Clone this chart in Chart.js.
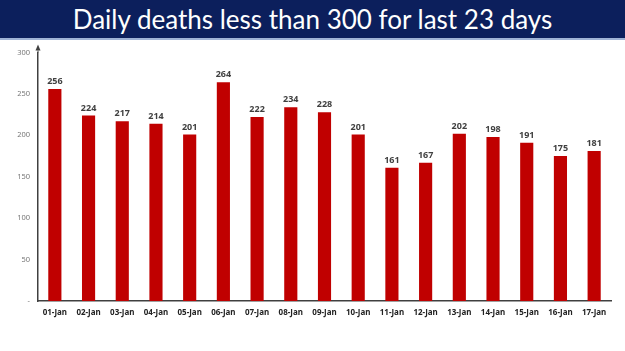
<!DOCTYPE html>
<html>
<head>
<meta charset="utf-8">
<script src="https://cdn.jsdelivr.net/npm/chart.js@4/dist/chart.umd.min.js"></script>
<style>
  html, body { margin: 0; padding: 0; background: #fff; }
  #page { position: relative; width: 625px; height: 351px; overflow: hidden; }
  #title {
    position: absolute; left: 0; top: 0; width: 625px; height: 38px;
    background: #0c1f5c; border-bottom: 2px solid #9fb3d6;
    color: #fff; font-family: Lato, 'Open Sans', sans-serif; font-size: 26px;
    line-height: 38px; text-align: center;
  }
  #wrap { position: absolute; left: 0; top: 40px; width: 625px; height: 311px; }
</style>
</head>
<body>
<div id="page">
  <div id="title">Daily deaths less than 300 for last 23 days</div>
  <div id="wrap"><canvas id="myChart"></canvas></div>
</div>
<script>
const days = ['01-Jan', '02-Jan', '03-Jan', '04-Jan', '05-Jan', '06-Jan', '07-Jan', '08-Jan', '09-Jan',
  '10-Jan', '11-Jan', '12-Jan', '13-Jan', '14-Jan', '15-Jan', '16-Jan', '17-Jan'];
const deaths = [256, 224, 217, 214, 201, 264, 222, 234, 228, 201, 161, 167, 202, 198, 191, 175, 181];
const yTicks = [0, 50, 100, 150, 200, 250, 300];

// value labels above each bar
const barLabels = {
  id: 'barLabels',
  afterDatasetsDraw(chart) {
    const ctx = chart.ctx;
    const meta = chart.getDatasetMeta(0);
    ctx.save();
    ctx.fillStyle = '#404040';
    ctx.font = 'bold 9px "Noto Sans"';
    ctx.textAlign = 'center';
    ctx.textBaseline = 'bottom';
    meta.data.forEach((bar, i) => {
      ctx.fillText(deaths[i], bar.x, bar.y - 3);
    });
    ctx.restore();
  }
};

// arrow head on top of the y axis
const axisArrow = {
  id: 'axisArrow',
  afterDraw(chart) {
    const ctx = chart.ctx;
    const x = chart.scales.y.right;
    const top = chart.chartArea.top;
    ctx.save();
    ctx.strokeStyle = '#404040';
    ctx.fillStyle = '#404040';
    ctx.lineWidth = 1;
    ctx.beginPath();
    ctx.moveTo(x, top);
    ctx.lineTo(x, top - 2);
    ctx.stroke();
    ctx.beginPath();
    ctx.moveTo(x, top - 8);
    ctx.lineTo(x - 2.5, top - 2);
    ctx.lineTo(x + 2.5, top - 2);
    ctx.closePath();
    ctx.fill();
    ctx.restore();
  }
};

new Chart(document.getElementById('myChart').getContext('2d'), {
  type: 'bar',
  data: {
    labels: days,
    datasets: [{
      data: deaths,
      backgroundColor: '#c00000',
      borderColor: '#b00000',
      borderWidth: 0,
      barPercentage: 0.39,
      categoryPercentage: 1
    }]
  },
  options: {
    responsive: true,
    maintainAspectRatio: false,
    animation: false,
    layout: { padding: { top: 9, right: 14, left: 0, bottom: 0 } },
    plugins: { legend: { display: false }, tooltip: { enabled: false } },
    scales: {
      x: {
        grid: { display: false, drawTicks: false },
        border: { display: true, color: '#404040', width: 1.5 },
        ticks: {
          color: '#222',
          font: { family: 'Noto Sans', size: 8, weight: 'bold' },
          padding: 7,
          maxRotation: 0,
          autoSkip: false
        },
        afterFit(s) { s.height = 50; }
      },
      y: {
        min: 0,
        max: 300,
        afterBuildTicks(s) { s.ticks = yTicks.map(v => ({ value: v })); },
        grid: { display: false, drawTicks: false },
        border: { display: true, color: '#404040', width: 1.5 },
        ticks: {
          color: '#777',
          font: { family: 'Noto Sans', size: 7.5 },
          padding: 8,
          callback: v => (v === 0 ? '-' : v)
        },
        afterFit(s) { s.width = 38; }
      }
    }
  },
  plugins: [barLabels, axisArrow]
});
</script>
</body>
</html>
